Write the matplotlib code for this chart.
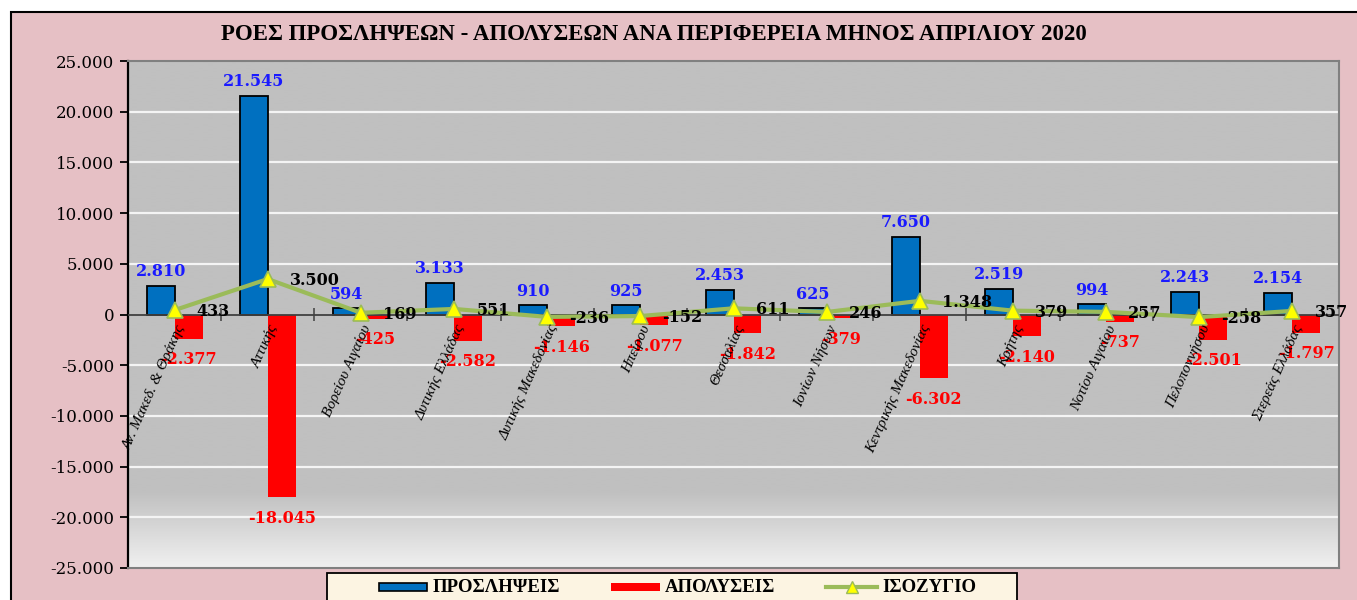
import numpy as np
import matplotlib
matplotlib.use("Agg")
import matplotlib.pyplot as plt
from matplotlib.patches import Rectangle
from matplotlib.lines import Line2D

# ---------------- data ----------------
regions = ["Αν. Μακεδ. & Θράκης", "Αττικής", "Βορείου Αιγαίου", "Δυτικής Ελλάδας",
           "Δυτικής Μακεδονίας", "Ηπείρου", "Θεσσαλίας", "Ιονίων Νήσων",
           "Κεντρικής Μακεδονίας", "Κρήτης", "Νοτίου Αιγαίου", "Πελοποννήσου",
           "Στερεάς Ελλάδας"]
hires = [2810, 21545, 594, 3133, 910, 925, 2453, 625, 7650, 2519, 994, 2243, 2154]
layoffs = [-2377, -18045, -425, -2582, -1146, -1077, -1842, -379, -6302, -2140, -737, -2501, -1797]
balance = [433, 3500, 169, 551, -236, -152, 611, 246, 1348, 379, 257, -258, 357]
yticks = list(range(-25000, 25001, 5000))
title = "ΡΟΕΣ ΠΡΟΣΛΗΨΕΩΝ - ΑΠΟΛΥΣΕΩΝ ΑΝΑ ΠΕΡΙΦΕΡΕΙΑ ΜΗΝΟΣ ΑΠΡΙΛΙΟΥ 2020"
legend_labels = ["ΠΡΟΣΛΗΨΕΙΣ", "ΑΠΟΛΥΣΕΙΣ", "ΙΣΟΖΥΓΙΟ"]

# ---------------- style ----------------
W, H = 1357, 600
PINK = "#e6c0c5"
BLUE = "#0070c0"
RED = "#ff0000"
GREEN = "#9bbb59"
YEL = "#ffff00"
SERIF = ["Liberation Serif", "DejaVu Serif"]
VALF = ["DejaVu Serif"]


def fx(px):
    return px / W


def fy(py):
    return 1 - py / H


fig = plt.figure(figsize=(W / 100, H / 100), dpi=100)
fig.patch.set_facecolor("white")

# outer pink frame
fig.patches.append(Rectangle((fx(11), -0.1), 1.2, fy(12) + 0.1, transform=fig.transFigure,
                             facecolor=PINK, edgecolor="black", linewidth=1.5, zorder=-5))

ax = fig.add_axes([fx(128), fy(568), fx(1339) - fx(128), fy(61) - fy(568)])
ax.set_zorder(1)
x = np.arange(len(regions))
ax.set_xlim(-0.5, len(regions) - 0.5)
ax.set_ylim(yticks[0], yticks[-1])

# plot-area background: flat gray with a light gradient at the bottom
n = 300
yy = np.linspace(yticks[0], yticks[-1], n)          # ascending (origin='lower')
t = np.clip((-17500 - yy) / (-17500 - yticks[0]), 0, 1)
shade = 192 + t * (240 - 192)
img = np.repeat((shade / 255.0)[:, None, None], 3, axis=2)
ax.imshow(img, extent=[-0.5, len(regions) - 0.5, yticks[0], yticks[-1]], origin="lower",
          aspect="auto", zorder=0, interpolation="bilinear")

for v in yticks:
    if v not in (0, yticks[0], yticks[-1]):
        ax.axhline(v, color="#f4f4f4", lw=1.6, zorder=1)

# bars
bw = 0.3
ax.bar(x - bw / 2, hires, bw, color=BLUE, edgecolor="black", linewidth=1.3, zorder=3)
ax.bar(x + bw / 2, layoffs, bw, color=RED, linewidth=0, zorder=3)

# zero line + category separators
ax.axhline(0, color="#404040", lw=1.3, zorder=4)
ax.vlines(np.arange(len(regions) - 1) + 0.5, -600, 600, color="#404040", lw=1.1, zorder=4)

# balance line
ax.plot(x, balance, color=GREEN, lw=3, marker="^", ms=11, mfc=YEL, mec=GREEN,
        mew=1.2, zorder=6)


def fmt(v):
    return f"{v:,.0f}".replace(",", ".")


for i in range(len(regions)):
    ax.annotate(fmt(hires[i]), (x[i] - bw / 2, hires[i]), xytext=(0, 4),
                textcoords="offset points", ha="center", va="bottom", color="#1a1aff",
                fontsize=11.5, fontweight="bold", family=VALF, zorder=7)
    ax.annotate(fmt(layoffs[i]), (x[i] + bw / 2, layoffs[i]), xytext=(0, -9),
                textcoords="offset points", ha="center", va="top", color=RED,
                fontsize=11.5, fontweight="bold", family=VALF, zorder=7)
    ax.annotate(fmt(balance[i]), (x[i], balance[i]), xytext=(16, -1),
                textcoords="offset points", ha="left", va="center", color="black",
                fontsize=11.5, fontweight="bold", family=VALF, zorder=7)
    ax.annotate(regions[i], (x[i], 0), xytext=(5, -8), textcoords="offset points",
                ha="right", va="center", rotation=66, rotation_mode="anchor",
                fontsize=11, style="italic", family=SERIF, color="black", zorder=7)

# axes styling
ax.set_xticks([])
ax.set_yticks(yticks)
ax.set_yticklabels([fmt(v) for v in yticks], family=VALF, fontsize=12)
ax.tick_params(axis="y", direction="out", length=6, width=1.3, color="black", pad=4)
ax.spines["left"].set_color("black")
ax.spines["left"].set_linewidth(1.6)
for s in ("top", "right", "bottom"):
    ax.spines[s].set_color("#808080")
    ax.spines[s].set_linewidth(1.5)

# title
fig.text(fx(654), fy(34), title, ha="center", va="center", fontsize=16.5,
         fontweight="bold", family=SERIF)

# legend (drawn manually in figure pixels)
fig.patches.append(Rectangle((fx(327), -0.1), fx(1017) - fx(327), fy(573) + 0.1,
                             transform=fig.transFigure, facecolor="#fcf4e2",
                             edgecolor="black", linewidth=1.3, zorder=2))
ly = 587
fig.patches.append(Rectangle((fx(379), fy(591)), fx(427) - fx(379), fy(583) - fy(591),
                             transform=fig.transFigure, facecolor=BLUE, edgecolor="black",
                             linewidth=1.2, zorder=3))
fig.patches.append(Rectangle((fx(611), fy(591)), fx(660) - fx(611), fy(583) - fy(591),
                             transform=fig.transFigure, facecolor=RED, edgecolor="none",
                             zorder=3))
fig.lines.append(Line2D([fx(826), fx(877)], [fy(ly), fy(ly)], transform=fig.transFigure,
                        color=GREEN, lw=3, zorder=3))
fig.lines.append(Line2D([fx(851.5)], [fy(ly)], transform=fig.transFigure, marker="^",
                        ms=8, mfc=YEL, mec=GREEN, mew=1, lw=0, zorder=4))
for px, lab in zip([433, 665, 882], legend_labels):
    fig.text(fx(px), fy(ly), lab, ha="left", va="center", fontsize=13.5,
             fontweight="bold", family=SERIF, zorder=5)

fig.savefig("out.png", dpi=100, facecolor=fig.get_facecolor())
